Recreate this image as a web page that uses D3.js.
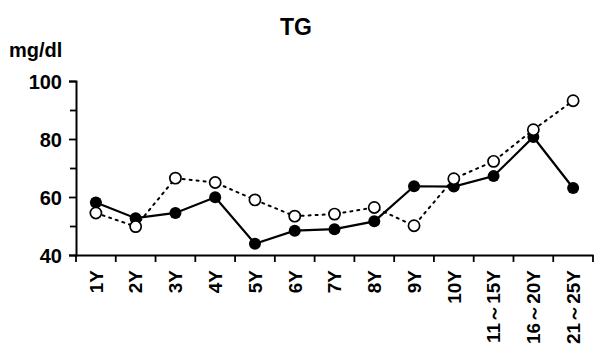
<!DOCTYPE html>
<html><head><meta charset="utf-8">
<script src="https://cdn.jsdelivr.net/npm/d3@7"></script>
<style>body{margin:0;background:#fff}svg{display:block}text{font-family:"Liberation Sans",Arial,sans-serif;font-weight:bold;fill:#000}</style>
</head><body><svg id="c" width="597" height="350"></svg>
<script>
const categories = ["1Y","2Y","3Y","4Y","5Y","6Y","7Y","8Y","9Y","10Y","11～15Y","16～20Y","21～25Y"];
const filledValues = [58.1,52.7,54.5,59.9,43.9,48.4,48.9,51.6,63.7,63.6,67.2,80.7,63.1];
const openValues = [54.5,49.8,66.5,65.0,59.0,53.4,54.1,56.4,50.1,66.3,72.3,83.2,93.2];
const yTicks = [40,60,80,100];
const yMinorTicks = [50,70,90];

const svg = d3.select("#c");
const x = d3.scaleBand().domain(categories).range([76,593]);
const y = d3.scaleLinear().domain([40,100]).range([255,81]);

// title and unit
svg.append("text").attr("x",296).attr("y",35).attr("text-anchor","middle").style("font-size","23px").text("TG");
svg.append("text").attr("x",9).attr("y",57).style("font-size","20px").text("mg/dl");

// y axis
const ya = svg.append("g").attr("transform","translate(76,0)")
  .call(d3.axisLeft(y).tickValues(yTicks).tickSize(7).tickPadding(7).tickFormat(d3.format("d")));
ya.selectAll("text").style("font-size","20px").attr("dy","0.36em");
svg.append("g").attr("transform","translate(76,0)")
  .call(d3.axisLeft(y).tickValues(yMinorTicks).tickSize(6).tickFormat(""))
  .select(".domain").remove();

// x axis
const xa = svg.append("g").attr("transform","translate(0,255)")
  .call(d3.axisBottom(x).tickSize(0).tickFormat(d=>d));
xa.selectAll(".tick text").style("font-size","19px")
  .attr("text-anchor","end").attr("transform","rotate(-90)")
  .attr("x",-15).attr("y",0).attr("dy","0.36em");
// band boundary ticks
const bounds = categories.map(c=>x(c)).concat([x.range()[1]]);
svg.append("g").selectAll("line").data(bounds).join("line")
  .attr("x1",d=>d).attr("x2",d=>d).attr("y1",255).attr("y2",262)
  .attr("stroke","#000").attr("stroke-width",1.8);

svg.selectAll(".domain").attr("stroke","#000").attr("stroke-width",2);
svg.selectAll(".tick line").attr("stroke","#000").attr("stroke-width",1.8);

const cx = d => x(d) + x.bandwidth()/2;
const line = vals => d3.line().x((d,i)=>cx(categories[i])).y(d=>y(d))(vals);

svg.append("path").attr("d",line(openValues)).attr("fill","none").attr("stroke","#000")
  .attr("stroke-width",2).attr("stroke-dasharray","2,5").attr("stroke-linecap","round");
svg.append("path").attr("d",line(filledValues)).attr("fill","none").attr("stroke","#000").attr("stroke-width",2.2);

svg.append("g").selectAll("circle").data(filledValues).join("circle")
  .attr("cx",(d,i)=>cx(categories[i])).attr("cy",d=>y(d)).attr("r",6).attr("fill","#000");
svg.append("g").selectAll("circle").data(openValues).join("circle")
  .attr("cx",(d,i)=>cx(categories[i])).attr("cy",d=>y(d)).attr("r",5.6)
  .attr("fill","#fff").attr("stroke","#000").attr("stroke-width",1.7);
</script></body></html>
